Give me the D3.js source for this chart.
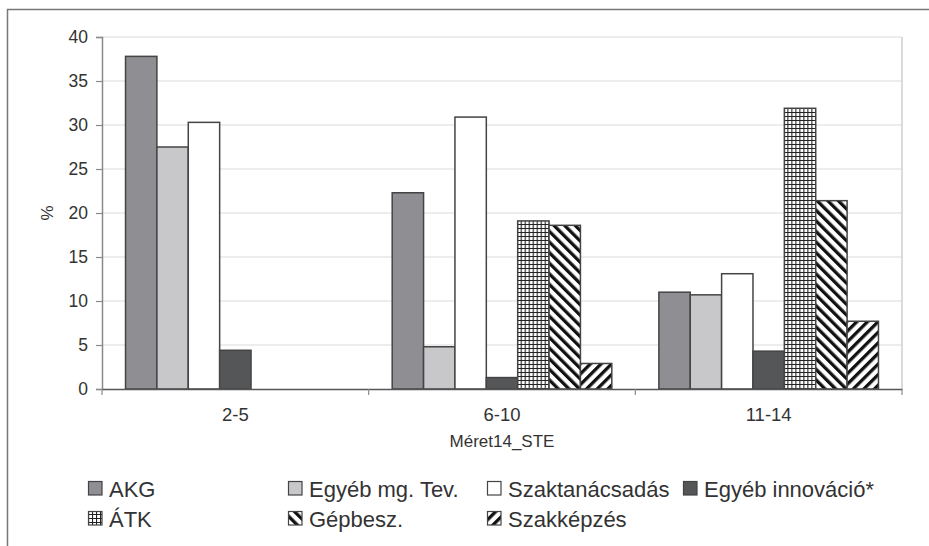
<!DOCTYPE html>
<html>
<head>
<meta charset="utf-8">
<script src="https://cdn.jsdelivr.net/npm/d3@7"></script>
<style>
  html, body { margin: 0; padding: 0; background: #fff; }
  svg { display: block; font-family: "Liberation Sans", Arial, sans-serif; }
</style>
</head>
<body>
<svg id="chart" width="929" height="546"></svg>
<script>
// ---- data ----
const categories = ["2-5", "6-10", "11-14"];
const seriesNames = ["AKG", "Egyéb mg. Tev.", "Szaktanácsadás", "Egyéb innováció*", "ÁTK", "Gépbesz.", "Szakképzés"];
const AKG = [37.8, 22.3, 11.0];
const egyebMg = [27.5, 4.8, 10.7];
const szaktanacsadas = [30.3, 30.9, 13.1];
const egyebInnovacio = [4.4, 1.3, 4.3];
const ATK = [0, 19.1, 31.9];
const gepbesz = [0, 18.6, 21.4];
const szakkepzes = [0, 2.9, 7.7];
const yTicks = [0, 5, 10, 15, 20, 25, 30, 35, 40];
const yTitle = "%";
const xTitle = "Méret14_STE";

const seriesValues = [AKG, egyebMg, szaktanacsadas, egyebInnovacio, ATK, gepbesz, szakkepzes];
const fills = ["#8f8f93", "#c8c8ca", "#ffffff", "#545658", "url(#pGrid)", "url(#pBack)", "url(#pFwd)"];

const svg = d3.select("#chart");

// ---- patterns ----
const defs = svg.append("defs");
const pg = defs.append("pattern").attr("id", "pGrid").attr("patternUnits", "userSpaceOnUse")
  .attr("width", 4).attr("height", 4);
pg.append("rect").attr("width", 4).attr("height", 4).attr("fill", "#fff");
pg.append("path").attr("d", "M0,0.5H4M0.5,0V4").attr("stroke", "#222").attr("stroke-width", 1.2);

const pb = defs.append("pattern").attr("id", "pBack").attr("patternUnits", "userSpaceOnUse")
  .attr("width", 7.5).attr("height", 7.5).attr("patternTransform", "rotate(-45)");
pb.append("rect").attr("width", 7.5).attr("height", 7.5).attr("fill", "#fff");
pb.append("rect").attr("width", 3.3).attr("height", 7.5).attr("fill", "#111");

const pf = defs.append("pattern").attr("id", "pFwd").attr("patternUnits", "userSpaceOnUse")
  .attr("width", 7.5).attr("height", 7.5).attr("patternTransform", "rotate(45)");
pf.append("rect").attr("width", 7.5).attr("height", 7.5).attr("fill", "#fff");
pf.append("rect").attr("width", 3.3).attr("height", 7.5).attr("fill", "#111");

// ---- outer frame ----
svg.append("path").attr("d", "M7.5,546V9.5H929").attr("fill", "none")
  .attr("stroke", "#777").attr("stroke-width", 1.5);

// ---- plot ----
const pLeft = 102, pRight = 902, pTop = 37, pBottom = 389;
const x0 = d3.scaleBand().domain(categories).range([pLeft, pRight]).paddingInner(0).paddingOuter(0);
const bw = x0.bandwidth() / (seriesNames.length + 1.5);
const x1 = d3.scaleBand().domain(seriesNames).range([0.75 * bw, x0.bandwidth() - 0.75 * bw]).padding(0);
const y = d3.scaleLinear().domain([0, 40]).range([pBottom, pTop]);

// gridlines
svg.append("g").selectAll("line").data(yTicks.filter(d => d > 0)).join("line")
  .attr("x1", pLeft).attr("x2", pRight)
  .attr("y1", d => y(d)).attr("y2", d => y(d))
  .attr("stroke", "#dcdcdc").attr("stroke-width", 1.2);
// right border of plot area
svg.append("line").attr("x1", pRight).attr("x2", pRight).attr("y1", pTop).attr("y2", pBottom)
  .attr("stroke", "#cfcfcf").attr("stroke-width", 1.5);

// bars
const groups = svg.append("g").selectAll("g").data(categories).join("g")
  .attr("transform", d => `translate(${x0(d)},0)`);
groups.selectAll("rect")
  .data((c, ci) => seriesNames.map((s, si) => ({ s, si, v: seriesValues[si][ci] })).filter(d => d.v > 0))
  .join("rect")
  .attr("x", d => x1(d.s))
  .attr("width", x1.bandwidth())
  .attr("y", d => y(d.v))
  .attr("height", d => y(0) - y(d.v))
  .attr("fill", d => fills[d.si])
  .attr("stroke", "#444")
  .attr("stroke-width", 1.5);

// y axis
const yAxis = d3.axisLeft(y).tickValues(yTicks).tickSize(6).tickPadding(8);
const gy = svg.append("g").attr("transform", `translate(${pLeft},0)`).call(yAxis);
gy.select(".domain").attr("stroke", "#8a8a8a").attr("stroke-width", 1.5);
gy.selectAll(".tick line").attr("stroke", "#8a8a8a").attr("stroke-width", 1.2);
gy.selectAll(".tick text").attr("font-size", 17.5).attr("fill", "#333")
  .attr("font-family", "Liberation Sans, Arial, sans-serif");

// x axis
const xAxis = d3.axisBottom(x0).tickSize(0).tickPadding(19);
const gx = svg.append("g").attr("transform", `translate(0,${pBottom})`).call(xAxis);
gx.select(".domain").attr("stroke", "#555").attr("stroke-width", 1.5);
gx.selectAll(".tick text").attr("font-size", 18.5).attr("fill", "#333")
  .attr("font-family", "Liberation Sans, Arial, sans-serif");
// boundary ticks
svg.append("g").selectAll("line").data([pLeft, ...categories.map(c => x0(c) + x0.bandwidth())]).join("line")
  .attr("x1", d => d).attr("x2", d => d).attr("y1", pBottom).attr("y2", pBottom + 6)
  .attr("stroke", "#8a8a8a").attr("stroke-width", 1.2);

// titles
svg.append("text").attr("x", 502).attr("y", 447).attr("text-anchor", "middle")
  .attr("font-size", 17).attr("fill", "#333").text(xTitle);
svg.append("text").attr("transform", "translate(53,213) rotate(-90)").attr("text-anchor", "middle")
  .attr("font-size", 17).attr("fill", "#333").text(yTitle);

// legend
const legendPos = [[88, 488], [288, 488], [487, 488], [683, 488], [88, 518], [288, 518], [487, 518]];
const lg = svg.append("g").selectAll("g").data(seriesNames).join("g")
  .attr("transform", (d, i) => `translate(${legendPos[i][0]},${legendPos[i][1]})`);
lg.append("rect").attr("x", 0.5).attr("y", -6.5).attr("width", 13.5).attr("height", 13.5)
  .attr("fill", (d, i) => fills[i]).attr("stroke", "#444").attr("stroke-width", 1.2);
lg.append("text").attr("x", 21).attr("y", 1).attr("dy", "0.35em")
  .attr("font-size", 22).attr("fill", "#333").text(d => d);
</script>
</body>
</html>
